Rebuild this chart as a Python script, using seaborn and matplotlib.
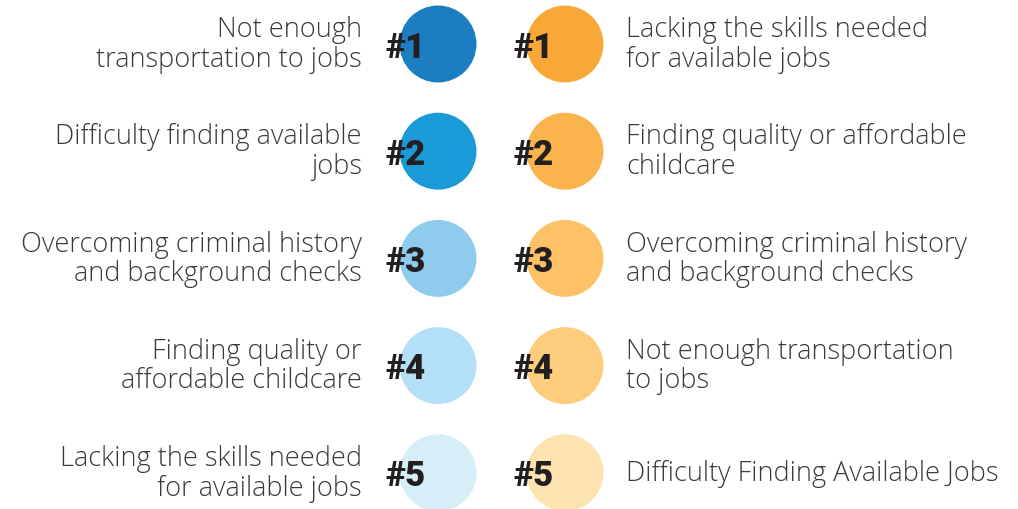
import matplotlib.pyplot as plt
import seaborn as sns
import pandas as pd

# Data
ranks = [1, 2, 3, 4, 5]
rank_labels = ["#1", "#2", "#3", "#4", "#5"]
left_items = [
    "Not enough\ntransportation to jobs",
    "Difficulty finding available\njobs",
    "Overcoming criminal history\nand background checks",
    "Finding quality or\naffordable childcare",
    "Lacking the skills needed\nfor available jobs",
]
right_items = [
    "Lacking the skills needed\nfor available jobs",
    "Finding quality or affordable\nchildcare",
    "Overcoming criminal history\nand background checks",
    "Not enough transportation\nto jobs",
    "Difficulty Finding Available Jobs",
]
left_colors = ["#1C7DC1", "#1A9BD7", "#8ECBEC", "#B3E0F6", "#D6EEF8"]
right_colors = ["#F9A736", "#FBB44D", "#FDC168", "#FECC7D", "#FDE3B0"]

# layout (pixels)
col_x = {"left": 438, "right": 565}
y_first, y_step = 45, 107.2

df = pd.DataFrame({
    "side": ["left"] * 5 + ["right"] * 5,
    "rank": ranks * 2,
    "key": [f"L{r}" for r in ranks] + [f"R{r}" for r in ranks],
})
df["x"] = df["side"].map(col_x)
df["y"] = y_first + (df["rank"] - 1) * y_step
palette = dict(zip(df["key"], left_colors + right_colors))

fig = plt.figure(figsize=(10.18, 5.10), dpi=100)
ax = fig.add_axes([0, 0, 1, 1])
ax.set_xlim(0, 1018)
ax.set_ylim(510, 0)
ax.axis("off")

sns.scatterplot(data=df, x="x", y="y", hue="key", palette=palette,
                s=3070, linewidth=0, legend=False, ax=ax)

txt_color = "#3a3a3a"
for r, lab, li, ri in zip(ranks, rank_labels, left_items, right_items):
    y = y_first + (r - 1) * y_step
    ax.text(362, y, li, ha="right", va="center", fontsize=19.5,
            family="Open Sans", fontweight="light", color=txt_color,
            linespacing=1.08)
    ax.text(626, y, ri, ha="left", va="center", fontsize=19.5,
            family="Open Sans", fontweight="light", color=txt_color,
            linespacing=1.08)
    for sx in (386, 514):
        ax.text(sx, y + 3, lab, ha="left", va="center", fontsize=25,
                family="Roboto", fontweight="black", color="#231F20")

fig.savefig("out.png", dpi=100)
